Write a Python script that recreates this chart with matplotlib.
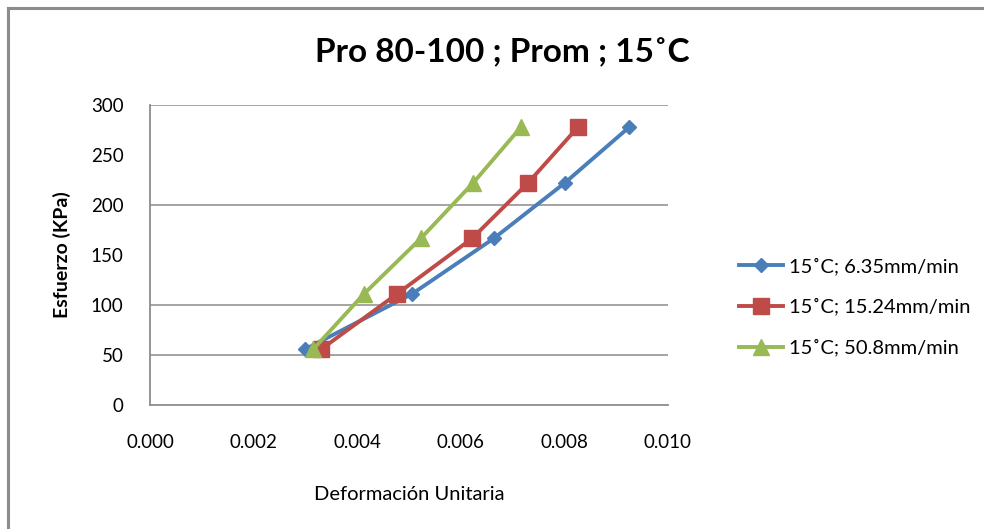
import matplotlib
matplotlib.use("Agg")
import matplotlib.pyplot as plt
from matplotlib.lines import Line2D

plt.rcParams['font.family'] = ['Lato', 'DejaVu Sans']

stress = [55.6, 111.1, 166.7, 222.2, 277.8]
strain_635 = [0.00299, 0.00506, 0.00664, 0.00801, 0.00925]
strain_1524 = [0.00330, 0.00477, 0.00622, 0.00730, 0.00826]
strain_508 = [0.00315, 0.00413, 0.00523, 0.00624, 0.00716]
labels = ["15˚C; 6.35mm/min", "15˚C; 15.24mm/min", "15˚C; 50.8mm/min"]
colors = ["#4A7EBB", "#BE4B48", "#98B954"]
x_ticks = [0.000, 0.002, 0.004, 0.006, 0.008, 0.010]
y_ticks = [0, 50, 100, 150, 200, 250, 300]
grid_vals = [50, 100, 200, 300]

W, H = 984, 529
fig = plt.figure(figsize=(W / 100, H / 100), dpi=100)
ax = fig.add_axes([150 / W, 1 - 405 / H, (668 - 150) / W, (405 - 105) / H])

# figure border (left and top visible)
fig.add_artist(Line2D([8 / W, 8 / W], [0, 1 - 8 / H], transform=fig.transFigure,
                      color="#8c8c8c", lw=2.2))
fig.add_artist(Line2D([8 / W, 1], [1 - 8 / H, 1 - 8 / H], transform=fig.transFigure,
                      color="#8c8c8c", lw=2.2))

for g in grid_vals:
    ax.axhline(g, color="#8c8c8c", lw=1.1, zorder=1)

series = [strain_635, strain_1524, strain_508]
markers = ["D", "s", "^"]
msizes = [7.5, 11.5, 11.5]
for xs, lab, c, m, ms in zip(series, labels, colors, markers, msizes):
    ax.plot(xs, stress, color=c, lw=2.8, marker=m, markersize=ms,
            markeredgecolor=c, markerfacecolor=c, label=lab, zorder=3)

ax.set_xlim(0, 0.010)
ax.set_ylim(0, 300)
ax.set_xticks(x_ticks)
ax.set_xticklabels([f"{v:.3f}" for v in x_ticks])
ax.set_yticks(y_ticks)
ax.tick_params(axis="both", length=0, labelsize=13.5, colors="black")
ax.tick_params(axis="x", pad=21)
ax.tick_params(axis="y", pad=19)
for s in ["top", "right"]:
    ax.spines[s].set_visible(False)
for s in ["left", "bottom"]:
    ax.spines[s].set_color("#8c8c8c")
    ax.spines[s].set_linewidth(1.3)

ax.set_xlabel("Deformación Unitaria", fontsize=14.5, labelpad=25)
ax.set_ylabel("Esfuerzo (KPa)", fontsize=14, fontweight="bold", labelpad=14)
fig.text(502 / W, 1 - 53 / H, "Pro 80-100 ; Prom ; 15˚C", fontsize=24,
         fontweight="bold", ha="center", va="center")

ax.legend(loc="center left", bbox_to_anchor=(731 / W, 1 - 307 / H),
          bbox_transform=fig.transFigure, frameon=False, fontsize=14.5,
          handlelength=2.2, handletextpad=0.3, labelspacing=1.15,
          borderaxespad=0)

fig.savefig("out.png", dpi=100)
